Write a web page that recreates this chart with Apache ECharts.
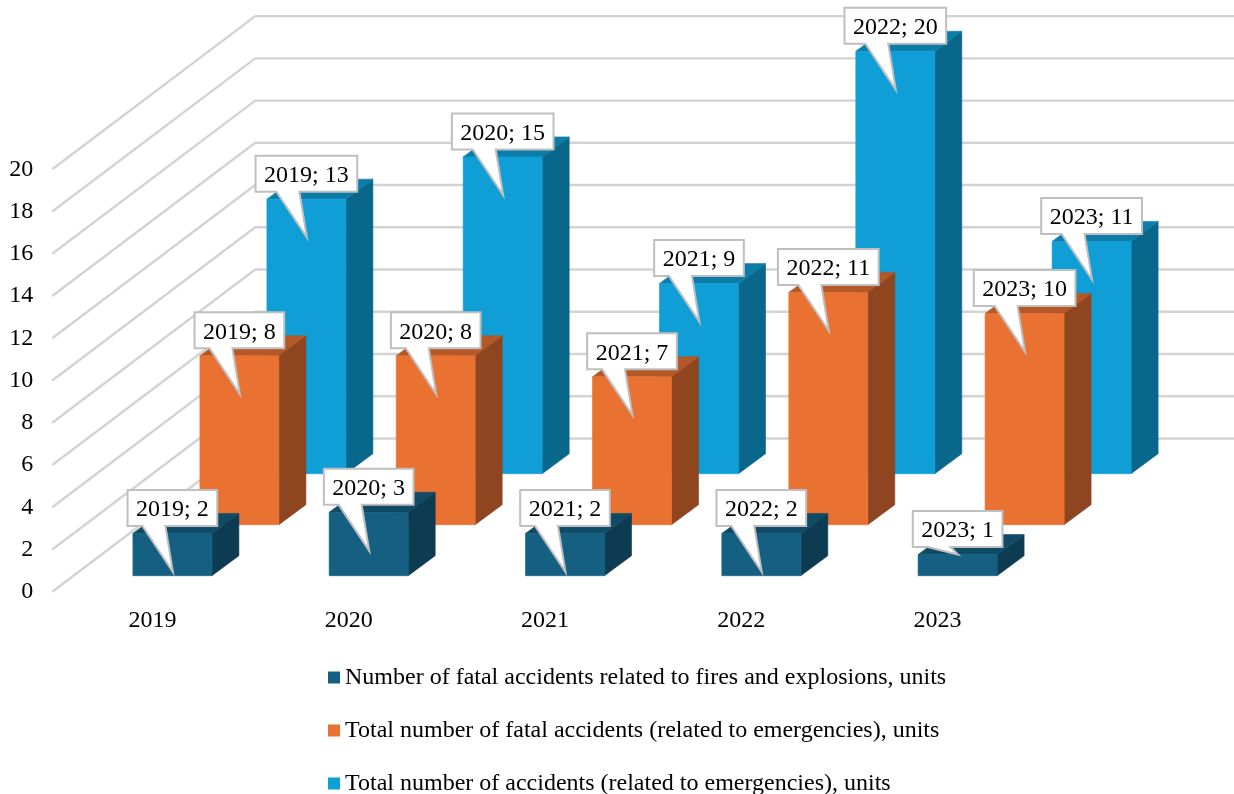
<!DOCTYPE html>
<html>
<head>
<meta charset="utf-8">
<style>html,body{margin:0;padding:0;background:#fff;overflow:hidden}#c{width:1234px;height:794px}</style>
<script src="https://cdn.jsdelivr.net/npm/echarts@6/dist/echarts.min.js"></script>
</head>
<body>
<div id="c"></div>
<script>
const years = ['2019', '2020', '2021', '2022', '2023'];
const yTicks = [0, 2, 4, 6, 8, 10, 12, 14, 16, 18, 20];
const fatalFires = [2, 3, 2, 2, 1];
const fatalTotal = [8, 8, 7, 11, 10];
const accidentsTotal = [13, 15, 9, 20, 11];
const nameFires = 'Number of fatal accidents related to fires and explosions, units';
const nameFatal = 'Total number of fatal accidents (related to emergencies), units';
const nameAccidents = 'Total number of accidents (related to emergencies), units';

const FONT = '"Liberation Serif","Times New Roman",serif';
const FS = 24;
const measure = document.createElement('canvas').getContext('2d');
measure.font = FS + 'px "Liberation Serif"';

function barRenderer(row, colors) {
  const rowDx = 20 + 67 * row, rowDy = -16 - 51 * row;
  const halfW = 39.5, dx = 27, dy = -20;
  return function (params, api) {
    const i = api.value(0), v = api.value(1);
    const c0 = api.coord([i, 0]), c1 = api.coord([i, v]);
    const cx = c0[0] + rowDx, yb = c0[1] + rowDy, yt = c1[1] + rowDy;
    const l = cx - halfW, r = cx + halfW;
    const poly = (pts, col, z2) => ({
      type: 'polygon', z2: z2, shape: { points: pts },
      style: { fill: col, stroke: col, lineWidth: 0.6 }
    });
    const text = years[i] + '; ' + v;
    const bw = measure.measureText(text).width + 17, bh = 36;
    const bt = yt - 43.5, bb = bt + bh, bl = cx - bw / 2, br = cx + bw / 2;
    const tipY = v >= 2 ? yt + 38.5 : yt;
    return {
      type: 'group',
      children: [
        poly([[r, yb], [r + dx, yb + dy], [r + dx, yt + dy], [r, yt]], colors.side, 1),
        poly([[l, yt], [l + dx, yt + dy], [r + dx, yt + dy], [r, yt]], colors.top, 2),
        poly([[l, yb], [r, yb], [r, yt], [l, yt]], colors.front, 3),
        {
          type: 'polygon', z2: 10,
          shape: { points: [[bl, bt], [br, bt], [br, bb], [cx - 7, bb], [cx + 0.5, tipY], [cx - 30, bb], [bl, bb]] },
          style: { fill: '#ffffff', stroke: '#bfbfbf', lineWidth: 2 }
        },
        {
          type: 'text', z2: 11,
          style: {
            x: cx, y: bt + bh / 2 + 2, text: text, fill: '#000000',
            font: FS + 'px ' + FONT, align: 'center', verticalAlign: 'middle'
          }
        }
      ]
    };
  };
}

function gridRenderer(params, api) {
  const p = api.coord([0, api.value(0)]);
  const sys = params.coordSys;
  const x0 = sys.x - 2, y = p[1];
  return {
    type: 'polyline',
    shape: { points: [[x0, y], [x0 + 203, y - 153.2], [1236, y - 153.2]] },
    style: { fill: 'none', stroke: '#d3d3d3', lineWidth: 2.4 }
  };
}

function pairs(values) { return values.map((v, i) => [i, v]); }

function barSeries(name, values, row, colors, z) {
  return {
    type: 'custom', name: name, z: z, coordinateSystem: 'cartesian2d',
    data: pairs(values), encode: { x: 0, y: 1 },
    itemStyle: { color: colors.front },
    renderItem: barRenderer(row, colors), silent: true
  };
}

const chart = echarts.init(document.getElementById('c'), null, { renderer: 'canvas' });
chart.setOption({
  animation: false,
  backgroundColor: '#ffffff',
  grid: { left: 54.25, top: 169.3, width: 981.5, height: 422.4, containLabel: false },
  xAxis: {
    type: 'category', data: years,
    axisLine: { show: false }, axisTick: { show: false }, splitLine: { show: false },
    axisLabel: { margin: 17, color: '#000', fontFamily: FONT, fontSize: 24 }
  },
  yAxis: {
    type: 'value', min: 0, max: 20, interval: 2,
    axisLine: { show: false }, axisTick: { show: false }, splitLine: { show: false },
    axisLabel: { margin: 21, color: '#000', fontFamily: FONT, fontSize: 24, padding: [2, 0, 0, 0] }
  },
  legend: {
    orient: 'vertical', left: 323, top: 660.5, height: 200,
    data: [nameFires, nameFatal, nameAccidents],
    icon: 'rect', itemWidth: 12, itemHeight: 12, itemGap: 29,
    selectedMode: false,
    textStyle: { color: '#000', fontFamily: FONT, fontSize: 24 }
  },
  series: [
    {
      type: 'custom', name: 'grid', z: 1, coordinateSystem: 'cartesian2d',
      data: yTicks.map(t => [t]), encode: { y: 0 },
      renderItem: gridRenderer, silent: true
    },
    barSeries(nameAccidents, accidentsTotal, 2, { front: '#0F9ED5', top: '#0C7DA9', side: '#0A678C' }, 2),
    barSeries(nameFatal, fatalTotal, 1, { front: '#E97132', top: '#B55827', side: '#8F451F' }, 3),
    barSeries(nameFires, fatalFires, 0, { front: '#156082', top: '#104B66', side: '#0D3C52' }, 4)
  ]
});
</script>
</body>
</html>
